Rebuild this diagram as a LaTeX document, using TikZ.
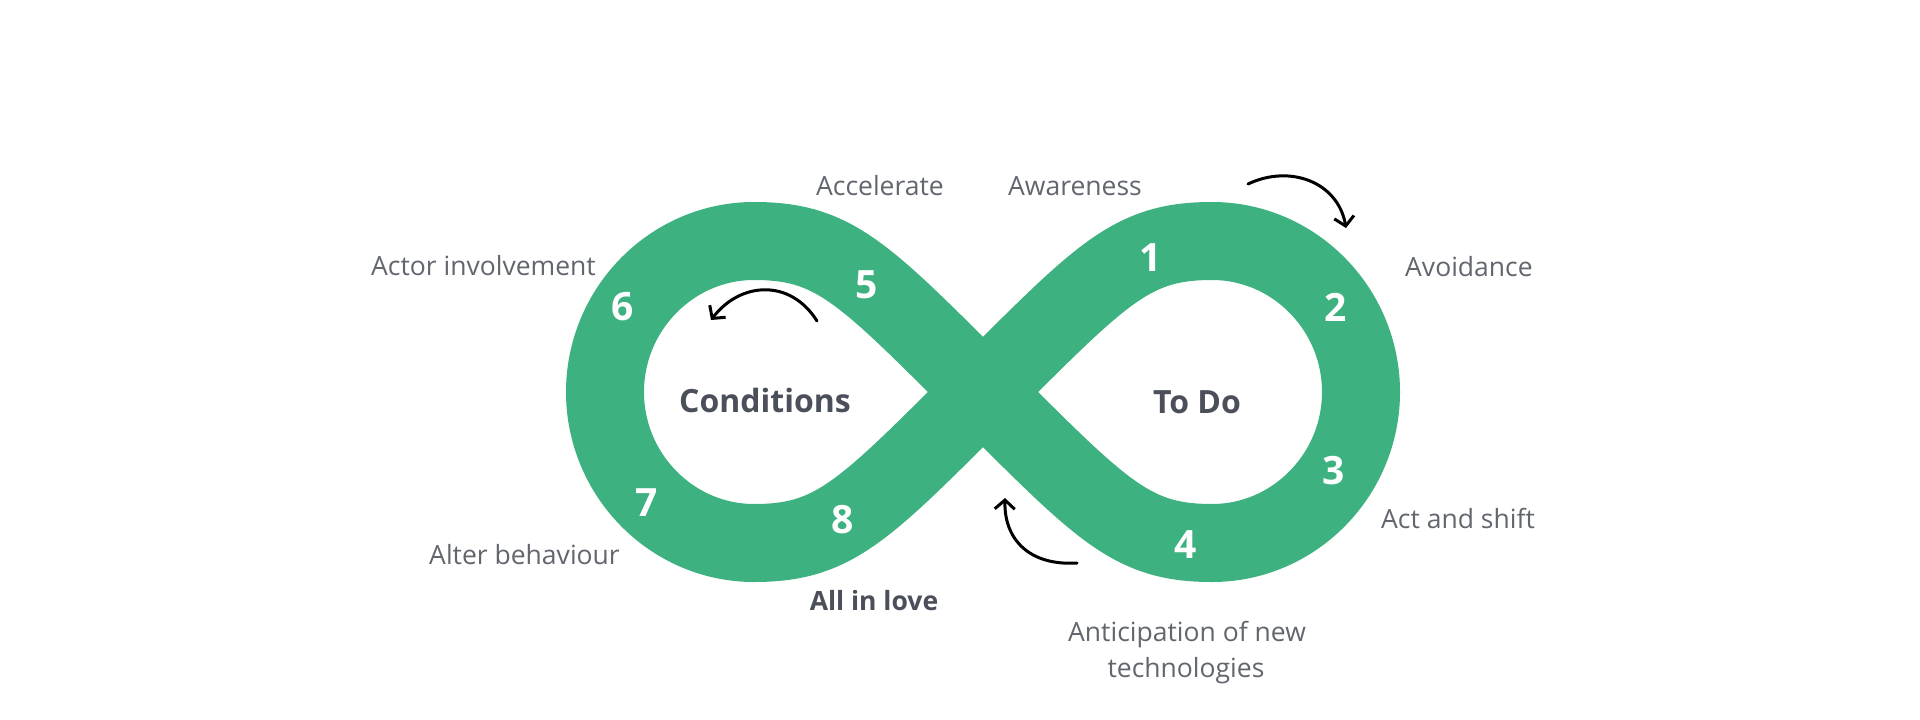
\documentclass[tikz,border=0pt]{standalone}
\usepackage{fontspec}
\setmainfont{Open Sans}
\usetikzlibrary{arrows.meta}
\definecolor{bandgreen}{RGB}{61,178,128}
\definecolor{labelgray}{RGB}{98,102,110}
\definecolor{darkgray}{RGB}{74,79,90}
\tikzset{
  lbl/.style={anchor=base, inner sep=0pt, text=labelgray, font=\fontsize{26.5}{36}\selectfont},
  boldlbl/.style={anchor=base, inner sep=0pt, text=darkgray, font=\fontsize{26.5}{36}\selectfont\bfseries},
  centerlbl/.style={anchor=base, inner sep=0pt, text=darkgray, font=\fontsize{32}{38}\selectfont\bfseries},
  numlbl/.style={anchor=center, inner sep=0pt, text=white, font=\fontsize{39}{44}\selectfont\bfseries},
  flowarrow/.style={draw=black, line width=3pt, line cap=round, -{Straight Barb[length=9pt,width=20pt]}},
  band/.style={draw=bandgreen, line width=78pt}
}
\begin{document}
\begin{tikzpicture}[x=1pt,y=-1pt]
\useasboundingbox[fill=white] (0,0) rectangle (1920,720);
% infinity band
\draw[band] (983,392) .. controls (1103,272) and (1132,241) .. (1212,241)
  .. controls (1294,241) and (1361,309) .. (1361,392)
  .. controls (1361,475) and (1294,543) .. (1212,543)
  .. controls (1132,543) and (1103,512) .. (983,392)
  .. controls (863,272) and (834,241) .. (754,241)
  .. controls (672,241) and (605,309) .. (605,392)
  .. controls (605,475) and (672,543) .. (754,543)
  .. controls (834,543) and (863,512) .. cycle;
% numbers
\node[numlbl] (n1) at (1151,258) {1};
\node[numlbl] (n2) at (1336,307) {2};
\node[numlbl] (n3) at (1334,471) {3};
\node[numlbl] (n4) at (1186,545) {4};
\node[numlbl] (n5) at (867,285) {5};
\node[numlbl] (n6) at (623,307) {6};
\node[numlbl] (n7) at (647,503) {7};
\node[numlbl] (n8) at (843,520) {8};
% center labels
\node[centerlbl] (cond) at (765,412) {Conditions};
\node[centerlbl] (todo) at (1197,413) {To Do};
% outer labels
\node[lbl] (acc) at (880,195) {Accelerate};
\node[lbl] (awa) at (1075,195) {Awareness};
\node[lbl, anchor=base east] (act) at (596,275) {Actor involvement};
\node[lbl, anchor=base west] (avo) at (1405,276) {Avoidance};
\node[lbl, anchor=base west] (ash) at (1381,528) {Act and shift};
\node[lbl, anchor=base east] (alt) at (620,564) {Alter behaviour};
\node[boldlbl] (love) at (874,610) {All in love};
\node[lbl] (ant1) at (1187,641) {Anticipation of new};
\node[lbl] (ant2) at (1186,677) {technologies};
% arrows
\coordinate (a1s) at (1248,184);
\coordinate (a1e) at (1346,228);
\coordinate (a2s) at (817,321);
\coordinate (a2e) at (711,320);
\coordinate (a3s) at (1077,563);
\coordinate (a3e) at (1005,498);
\draw[flowarrow] (a1s) .. controls (1290,164) and (1338,182) .. (a1e);
\draw[flowarrow] (a2s) .. controls (790,278) and (740,282) .. (a2e);
\draw[flowarrow] (a3s) .. controls (1030,566) and (1004,540) .. (a3e);
\end{tikzpicture}
\end{document}
